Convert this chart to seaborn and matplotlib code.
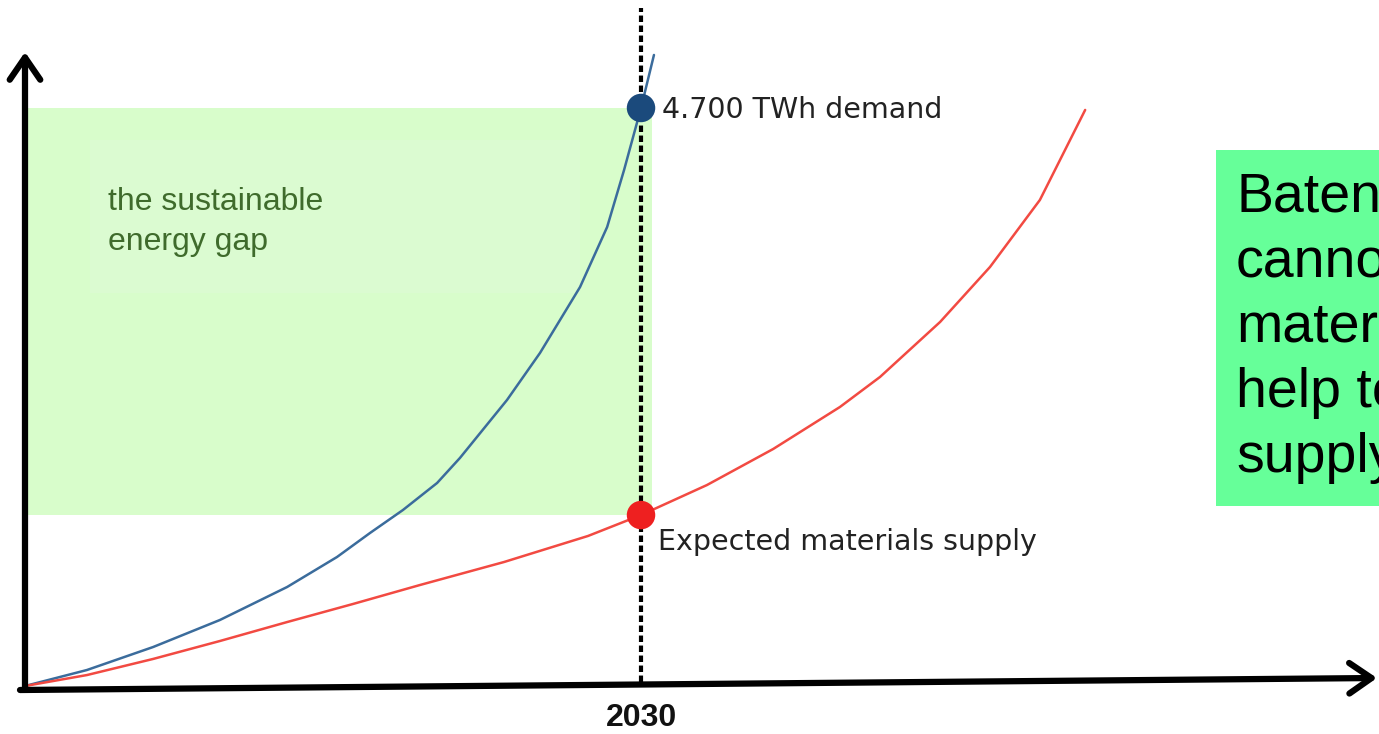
import matplotlib
matplotlib.use("Agg")
import matplotlib.pyplot as plt
import seaborn as sns
import pandas as pd
from matplotlib.patches import Rectangle

# ---------------- data ----------------
demand_years = [2010.00, 2012.01, 2014.16, 2016.33, 2018.51, 2020.13, 2021.20,
                2022.27, 2023.38, 2024.12, 2025.65, 2026.72, 2028.02, 2028.90,
                2029.45, 2030.00, 2030.42]
demand_twh = [0, 130, 317, 537, 805, 1049, 1244,
              1431, 1651, 1854, 2326, 2708, 3244, 3732,
              4196, 4700, 5131]

supply_years = [2010.00, 2012.01, 2014.16, 2016.33, 2018.51, 2020.65, 2022.82,
                2025.55, 2028.28, 2030.00, 2032.14, 2034.29, 2036.46, 2037.76,
                2039.71, 2041.33, 2042.95, 2044.42]
supply_twh = [0, 89, 220, 366, 520, 667, 821,
              1008, 1220, 1390, 1634, 1927, 2269, 2513,
              2960, 3407, 3952, 4684]

marker_year = 2030
demand_2030 = 4700
supply_2030 = 1390
tick_label = "2030"
demand_label = "4.700 TWh demand"
supply_label = "Expected materials supply"
gap_label = "the sustainable\nenergy gap"
side_note = "Baten\ncannot\nmaterials\nhelp to\nsupply"

demand_df = pd.DataFrame({"year": demand_years, "twh": demand_twh})
supply_df = pd.DataFrame({"year": supply_years, "twh": supply_twh})

# ---------------- styling ----------------
sns.set_theme(style="white")
plt.rcParams["font.family"] = ["Liberation Sans", "DejaVu Sans"]

fig = plt.figure(figsize=(13.79, 7.34), dpi=100)
ax = fig.add_axes([0, 0, 1, 1])
ax.set_xlim(2009.188, 2053.96)
ax.set_ylim(-390.3, 5578)
ax.axis("off")

# gap rectangle and inner label box
ax.add_patch(Rectangle((2010.1, supply_2030), 2030.36 - 2010.1,
                       demand_2030 - supply_2030, facecolor="#d8fdcb",
                       edgecolor="none", zorder=0))
ax.add_patch(Rectangle((2012.11, 3196), 2028.02 - 2012.11, 4440 - 3196,
                       facecolor="#dbfbd1", edgecolor="none", zorder=0.5))

# side note box
ax.add_patch(Rectangle((2048.67, 1464), 8, 4359 - 1464,
                       facecolor="#66ff99", edgecolor="none", zorder=0))

# 2030 dashed line
ax.vlines(marker_year, 30, 5515, colors="black", linewidth=3.0,
          linestyles=(0, (1.55, 0.85)), zorder=2)

# curves
sns.lineplot(data=demand_df, x="year", y="twh", ax=ax, color="#3b6c9c",
             linewidth=1.8, sort=False, estimator=None, zorder=3)
sns.lineplot(data=supply_df, x="year", y="twh", ax=ax, color="#f24a42",
             linewidth=1.8, sort=False, estimator=None, zorder=3)

# markers at 2030
sns.scatterplot(x=[marker_year], y=[demand_2030], ax=ax, s=420,
                color="#1b4a7c", edgecolor="none", zorder=5)
sns.scatterplot(x=[marker_year], y=[supply_2030], ax=ax, s=420,
                color="#ee2020", edgecolor="none", zorder=5)

# axes arrows
arrow_kw = dict(arrowstyle="->,head_length=0.8,head_width=0.55",
                lw=4.5, color="black", shrinkA=0, shrinkB=0,
                mutation_scale=20)
ax.annotate("", xy=(25, 682), xytext=(25, 46), xycoords="figure pixels",
            textcoords="figure pixels", arrowprops=arrow_kw)
ax.annotate("", xy=(1377, 56), xytext=(20, 44), xycoords="figure pixels",
            textcoords="figure pixels", arrowprops=arrow_kw)

# texts
ax.text(2012.69, 3775, gap_label, fontsize=23, color="#3f6b2c",
        ha="left", va="center", linespacing=1.45, zorder=6)
ax.text(2030.68, 4684, demand_label, fontsize=20.5, color="#222222",
        family=["DejaVu Sans"], ha="left", va="center", zorder=6)
ax.text(2030.55, 1171, supply_label, fontsize=20.5, color="#222222",
        family=["DejaVu Sans"], ha="left", va="center", zorder=6)
ax.text(marker_year, -260, tick_label, fontsize=23, fontweight="bold",
        family=["Liberation Sans Narrow", "Liberation Sans"],
        color="#111111", ha="center", va="center", zorder=6)
ax.text(2049.32, 2911, side_note, fontsize=40, color="black",
        ha="left", va="center", linespacing=1.33, zorder=6)

fig.savefig("out.png", dpi=100)
